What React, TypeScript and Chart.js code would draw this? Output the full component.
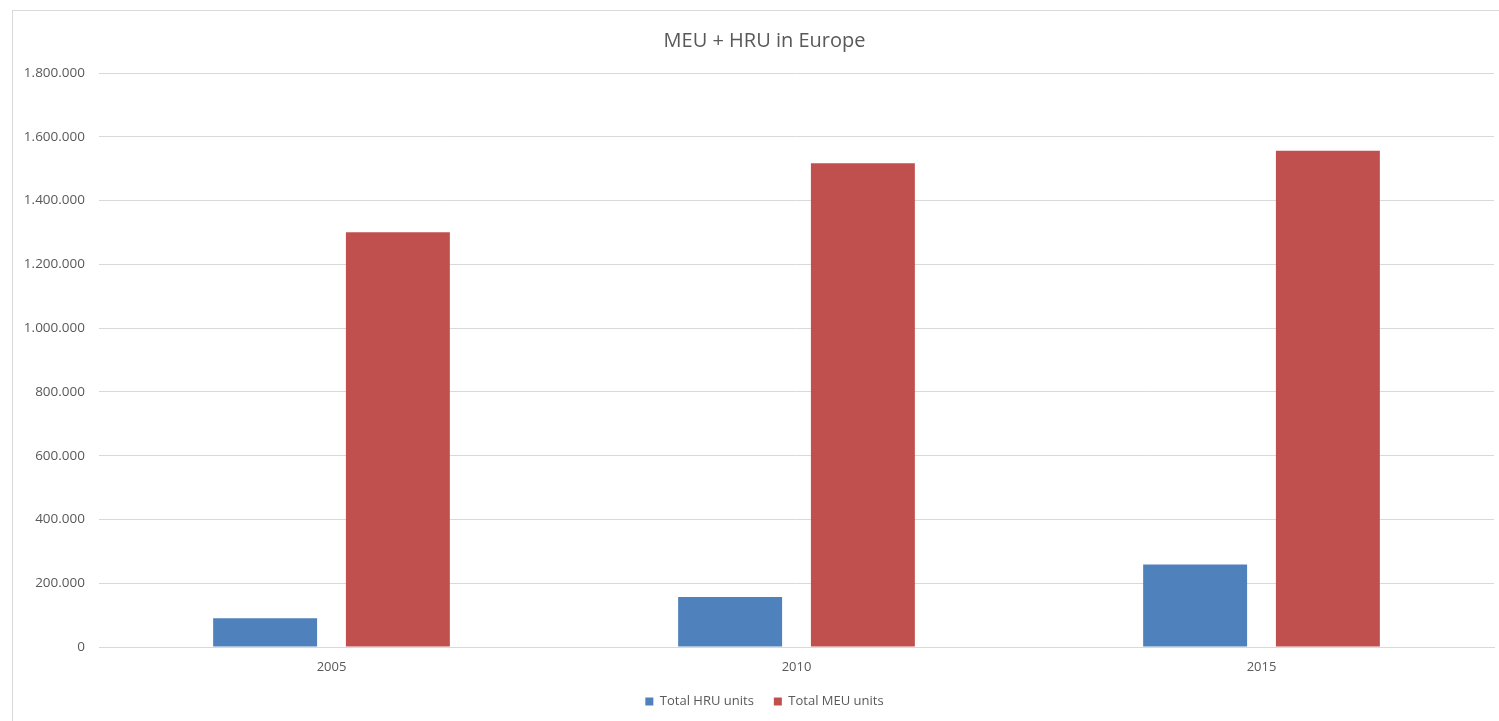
import React, { useEffect, useRef } from 'react';
import { Chart, registerables } from 'chart.js';

Chart.register(...registerables);

const categories = ['2005', '2010', '2015'];
const hruValues = [90000, 157000, 259000];
const meuValues = [1301000, 1517000, 1556000];
const seriesLabels = ['Total HRU units', 'Total MEU units'];
const titleText = 'MEU + HRU in Europe';
const yMax = 1800000;
const yStep = 200000;

const fmt = (v: number) => String(Math.round(v)).replace(/\B(?=(\d{3})+(?!\d))/g, '.');

// let the y tick labels draw left of the layout padding (labels are clipped to the scale box)
const widenYLabelArea = {
  id: 'widenYLabelArea',
  afterLayout(chart: any) {
    const s = chart.scales.y;
    if (s) s.left = 0;
  },
};

export default function App() {
  const ref = useRef<HTMLCanvasElement>(null);
  useEffect(() => {
    const font = 'Open Sans';
    const chart = new Chart(ref.current!, {
      type: 'bar',
      data: {
        labels: categories,
        datasets: [
          {
            label: seriesLabels[0],
            data: hruValues,
            backgroundColor: '#4f81bd',
            categoryPercentage: 0.571,
            barPercentage: 0.783,
          },
          {
            label: seriesLabels[1],
            data: meuValues,
            backgroundColor: '#c0504d',
            categoryPercentage: 0.571,
            barPercentage: 0.783,
          },
        ],
      },
      options: {
        animation: false,
        responsive: false,
        maintainAspectRatio: false,
        layout: { padding: { left: 35, right: 5, top: 29, bottom: 3 } },
        plugins: {
          title: {
            display: true,
            text: titleText,
            color: '#595959',
            font: { family: font, size: 20, weight: 'normal' },
            padding: { top: 0, bottom: 20 },
          },
          legend: {
            position: 'bottom',
            labels: {
              boxWidth: 8,
              boxHeight: 8,
              padding: 20,
              color: '#595959',
              font: { family: font, size: 13 },
            },
          },
          tooltip: { enabled: false },
        },
        scales: {
          x: {
            grid: { display: false, drawTicks: false },
            border: { color: '#d9d9d9', width: 1 },
            ticks: { padding: 12, color: '#595959', font: { family: font, size: 13 } },
            afterFit: (s: any) => {
              s.height = 28;
            },
          },
          y: {
            min: 0,
            max: yMax,
            ticks: {
              stepSize: yStep,
              padding: 14,
              color: '#595959',
              font: { family: font, size: 13.5 },
              callback: (v: any) => fmt(Number(v)),
            },
            grid: { color: '#d9d9d9', drawTicks: false },
            border: { display: false },
            afterFit: (s: any) => {
              s.width = 64;
            },
          },
        },
      },
      plugins: [widenYLabelArea],
    } as any);
    return () => chart.destroy();
  }, []);
  return (
    <div style={{ position: 'fixed', left: 0, top: 0, width: 1499, height: 721, background: '#fff', overflow: 'hidden' }}>
      <div
        style={{
          position: 'absolute',
          left: 12,
          top: 10,
          width: 1500,
          height: 720,
          borderLeft: '1px solid #d9d9d9',
          borderTop: '1px solid #d9d9d9',
        }}
      />
      <canvas ref={ref} width={1499} height={721} style={{ position: 'absolute', left: 0, top: 0 }} />
    </div>
  );
}
